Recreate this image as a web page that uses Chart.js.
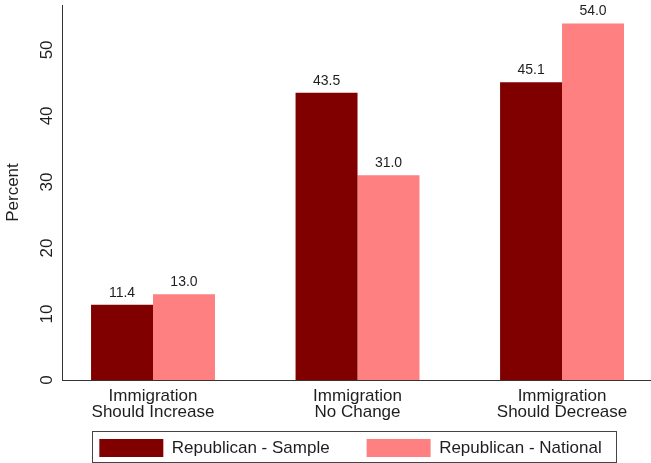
<!DOCTYPE html>
<html>
<head>
<meta charset="utf-8">
<script src="https://cdn.jsdelivr.net/npm/chart.js@4/dist/chart.umd.min.js"></script>
<style>
  body { margin: 0; background: #fff; }
  canvas { display: block; }
</style>
</head>
<body>
<canvas id="chart" width="651" height="463"></canvas>
<script>
// Data
const categories = [
    ['Immigration', 'Should Increase'],
    ['Immigration', 'No Change'],
    ['Immigration', 'Should Decrease']
];
const sampleValues = [11.4, 43.5, 45.1];
const nationalValues = [13.0, 31.0, 54.0];
const yTicks = [0, 10, 20, 30, 40, 50];
const yTitle = 'Percent';

const FONT = '"Liberation Sans", Arial, Helvetica, sans-serif';
const TEXT = '#1e1e1e';

// value labels, axis labels (rotated y ticks / title) and the legend frame
const extrasPlugin = {
    id: 'extras',
    afterDraw(chart) {
        const ctx = chart.ctx;
        const area = chart.chartArea;
        ctx.save();
        ctx.fillStyle = TEXT;
        ctx.textAlign = 'center';

        // values above bars
        ctx.font = '14px ' + FONT;
        ctx.textBaseline = 'alphabetic';
        chart.data.datasets.forEach((ds, di) => {
            chart.getDatasetMeta(di).data.forEach((bar, i) => {
                ctx.fillText(ds.data[i].y.toFixed(1), bar.x, bar.y - 8);
            });
        });

        // x category labels, two lines
        const xScale = chart.scales.x;
        ctx.font = '17px ' + FONT;
        categories.forEach((lines, i) => {
            const x = xScale.getPixelForValue(i);
            lines.forEach((line, j) => {
                ctx.fillText(line, x, area.bottom + 21 + j * 16);
            });
        });

        // y tick labels and title, rotated
        const yScale = chart.scales.y;
        ctx.textBaseline = 'middle';
        const vtext = (txt, x, y) => {
            ctx.save();
            ctx.translate(x, y);
            ctx.rotate(-Math.PI / 2);
            ctx.fillText(txt, 0, 0);
            ctx.restore();
        };
        yTicks.forEach(t => vtext(String(t), area.left - 15, yScale.getPixelForValue(t)));
        vtext(yTitle, 13, (area.top + area.bottom) / 2);

        // legend frame
        const hb = chart.legend.legendHitBoxes;
        if (hb && hb.length) {
            const last = hb[hb.length - 1];
            const x0 = Math.round(hb[0].left - 7) + 0.5;
            const x1 = Math.round(last.left + last.width + 14) + 0.5;
            const y0 = Math.round(hb[0].top - 8) + 0.5;
            const y1 = Math.min(Math.round(hb[0].top + hb[0].height + 5), chart.height - 1) + 0.5;
            ctx.strokeStyle = '#444';
            ctx.lineWidth = 1;
            ctx.strokeRect(x0, y0, x1 - x0, y1 - y0);
        }
        ctx.restore();
    }
};

const ctx = document.getElementById('chart').getContext('2d');
new Chart(ctx, {
    type: 'bar',
    data: {
        datasets: [{
            label: 'Republican - Sample',
            data: sampleValues.map((v, i) => ({ x: i, y: v })),
            backgroundColor: '#800000'
        }, {
            label: 'Republican - National',
            data: nationalValues.map((v, i) => ({ x: i, y: v })),
            backgroundColor: '#ff8080'
        }]
    },
    options: {
        responsive: false,
        animation: false,
        devicePixelRatio: 1,
        layout: {
            // left padding only shifts the centred legend to the right
            padding: { top: 5, right: 0, left: 50, bottom: 0 }
        },
        datasets: {
            bar: {
                categoryPercentage: 0.606,
                barPercentage: 1
            }
        },
        scales: {
            x: {
                type: 'linear',
                min: -0.445,
                max: 2.435,
                offset: false,
                grid: { display: false },
                border: { display: true, color: '#333', width: 1 },
                afterBuildTicks: scale => {
                    scale.ticks = categories.map((c, i) => ({ value: i }));
                },
                afterFit: scale => { scale.height = 22; },
                ticks: { display: false }
            },
            y: {
                min: 0,
                max: 56.8,
                grid: { display: false },
                border: { display: true, color: '#333', width: 1 },
                afterFit: scale => { scale.width = 12; },
                ticks: { display: false, stepSize: 10 }
            }
        },
        plugins: {
            legend: {
                position: 'bottom',
                maxHeight: 61,
                labels: {
                    boxWidth: 64,
                    boxHeight: 18,
                    padding: 37,
                    color: TEXT,
                    font: { family: FONT, size: 17 }
                }
            },
            tooltip: { enabled: false }
        }
    },
    plugins: [extrasPlugin]
});
</script>
</body>
</html>
